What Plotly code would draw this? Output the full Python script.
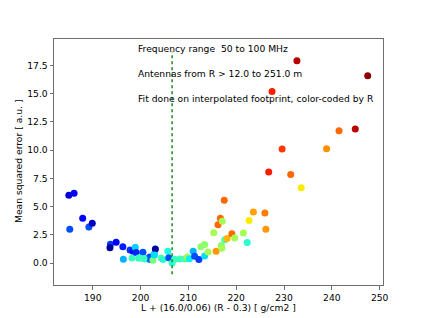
import plotly.graph_objects as go
import numpy as np

# ---- data ----
x_vals = [185.0, 186.1, 185.2, 187.9, 189.2, 189.9,
          193.7, 193.6, 194.9, 196.3, 196.4, 197.8, 198.4, 198.9, 198.2, 199.1,
          199.6, 200.5, 201.0, 201.9, 202.0, 202.6, 202.9, 203.1, 204.3, 204.7,
          205.7, 205.9, 206.6, 207.1, 208.2, 209.2, 209.8, 210.2, 211.0, 211.3,
          212.2, 212.6, 213.4, 213.4, 214.1, 215.8, 215.3, 216.2, 216.7, 217.1,
          217.5, 216.9, 217.0, 217.6, 218.1, 219.1, 219.7, 221.5, 222.3, 222.7,
          223.6, 226.0, 226.2, 226.8, 229.6, 231.4, 233.6, 238.9, 241.5, 244.9,
          227.5, 232.7, 247.5, 199.8, 200.7, 202.9]
y_vals = [6.01, 6.19, 2.99, 3.97, 3.20, 3.53,
          1.66, 1.36, 1.84, 1.45, 0.33, 1.15, 1.04, 1.39, 0.44, 0.92,
          0.44, 0.95, 0.38, 0.53, 0.30, 0.24, 0.83, 1.24, 0.44, 0.30,
          1.04, 0.47, 0.00, 0.33, 0.36, 0.36, 0.53, 0.38, 1.04, 0.60,
          0.30, 1.45, 1.63, 0.62, 0.98, 1.04, 2.69, 3.40, 3.97, 3.70,
          5.57, 1.54, 1.30, 2.07, 2.16, 2.60, 2.22, 2.66, 1.81, 3.76,
          4.53, 4.44, 2.99, 8.06, 10.10, 7.85, 6.66, 10.13, 11.73, 11.88,
          15.19, 17.92, 16.59, 0.44, 0.38, 0.70]
r_norm = [0.08, 0.10, 0.20, 0.12, 0.20, 0.06,
          0.18, 0.02, 0.12, 0.15, 0.30, 0.18, 0.14, 0.33, 0.42, 0.16,
          0.38, 0.20, 0.36, 0.20, 0.22, 0.50, 0.32, 0.03, 0.45, 0.40,
          0.38, 0.20, 0.40, 0.42, 0.42, 0.44, 0.55, 0.36, 0.30, 0.20,
          0.18, 0.52, 0.52, 0.34, 0.55, 0.75, 0.55, 0.80, 0.80, 0.55,
          0.80, 0.52, 0.55, 0.45, 0.72, 0.80, 0.55, 0.55, 0.40, 0.66,
          0.74, 0.78, 0.75, 0.88, 0.85, 0.80, 0.66, 0.76, 0.80, 0.95,
          0.88, 0.95, 0.99, 0.42, 0.42, 0.34]

x_marker = 206.6
line_y = [-1.0, 18.75]
x_ticks = [190, 200, 210, 220, 230, 240, 250]
y_ticks = [0.0, 2.5, 5.0, 7.5, 10.0, 12.5, 15.0, 17.5]
notes = ["Frequency range  50 to 100 MHz",
         "Antennas from R > 12.0 to 251.0 m",
         "Fit done on interpolated footprint, color-coded by R"]
notes_y = [18.98, 16.76, 14.6]
notes_x = 199.0

# matplotlib "jet" colormap rebuilt as a plotly colorscale
_jet = {
    'red': [(0., 0), (0.35, 0), (0.66, 1), (0.89, 1), (1, 0.5)],
    'green': [(0., 0), (0.125, 0), (0.375, 1), (0.64, 1), (0.91, 0), (1, 0)],
    'blue': [(0., 0.5), (0.11, 1), (0.34, 1), (0.65, 0), (1, 0)],
}
def _chan(name, t):
    pts = _jet[name]
    return float(np.interp(t, [p[0] for p in pts], [p[1] for p in pts]))
colorscale = []
for t in np.linspace(0, 1, 41):
    colorscale.append([float(t), 'rgb(%d,%d,%d)' % tuple(round(255 * _chan(c, t)) for c in ('red', 'green', 'blue'))])

FONT = "DejaVu Sans"
fig = go.Figure()
fig.add_trace(go.Scatter(
    x=x_vals, y=y_vals, mode='markers',
    marker=dict(size=7, color=r_norm, colorscale=colorscale, cmin=0, cmax=1,
                line=dict(width=0)),
    showlegend=False, hoverinfo='skip'))
fig.add_trace(go.Scatter(
    x=[x_marker, x_marker], y=line_y, mode='lines',
    line=dict(color='#1a8a1a', width=1.5, dash='dot'),
    showlegend=False, hoverinfo='skip'))

for t, yy in zip(notes, notes_y):
    fig.add_annotation(x=notes_x, y=yy, xref='x', yref='y', text=t, showarrow=False,
                       xanchor='left', yanchor='middle',
                       font=dict(family=FONT, size=9.2, color='black'))

fig.add_annotation(x=0.5, y=0, xref='paper', yref='paper',
                   text="L + (16.0/0.06) (R - 0.3) [ g/cm2 ]", showarrow=False,
                   xanchor='center', yanchor='middle', yshift=-22.7,
                   font=dict(family=FONT, size=9.2, color='black'))
fig.add_annotation(x=0, y=0.5, xref='paper', yref='paper',
                   text="Mean squared error [ a.u. ]", showarrow=False, textangle=-90,
                   xanchor='center', yanchor='middle', xshift=-36,
                   font=dict(family=FONT, size=9.2, color='black'))

axis_common = dict(showgrid=False, zeroline=False, showline=True, mirror=True,
                   linecolor='#6e6e6e', linewidth=1, ticks='outside', ticklen=3.5,
                   tickwidth=1, tickcolor='#6e6e6e',
                   tickfont=dict(family=FONT, size=9.2, color='black'))
fig.update_xaxes(range=[181.9, 250.7], tickvals=x_ticks,
                 ticktext=[str(v) for v in x_ticks], **axis_common)
fig.update_yaxes(range=[-1.95, 19.85], tickvals=y_ticks,
                 ticktext=['%.1f' % v for v in y_ticks], **axis_common)

# page body adds an 8px offset, so margins are shifted to compensate
fig.update_layout(width=423, height=318, margin=dict(l=46, r=48, t=31, b=41),
                  paper_bgcolor='white', plot_bgcolor='white',
                  font=dict(family=FONT))
fig.write_html("out.html")
